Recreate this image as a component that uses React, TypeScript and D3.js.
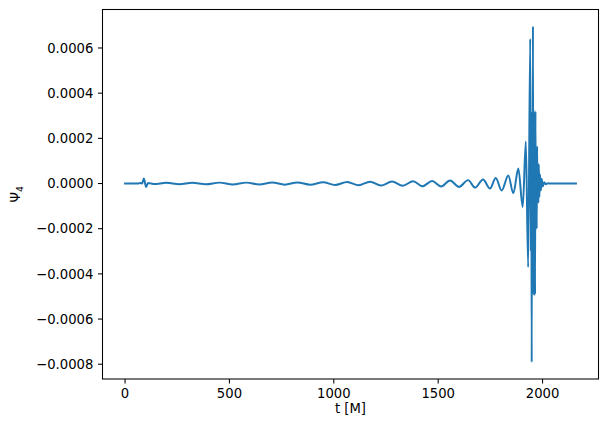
import React from "react"
import * as d3 from "d3"

// time samples [M] and Psi_4 values (in units of 1e-6)
const times = [
  0, 60, 76, 82, 90, 101, 110, 125, 140, 198, 260, 322, 387, 452, 516, 581,
  643, 705, 765, 825, 887, 949, 1006, 1064, 1119, 1174, 1226, 1279, 1330,
  1380, 1425, 1471, 1514, 1557, 1600, 1643, 1677, 1715, 1748, 1776, 1804,
  1836, 1860, 1884, 1905, 1920, 1931, 1941, 1944, 1946, 1948, 1950, 1952,
  1954, 1956, 1958, 1960, 1962, 1964, 1966, 1968, 1970, 1972, 1974, 1976,
  1978, 1980, 1982, 1985, 1988, 1992, 1996, 2001, 2008, 2016, 2026, 2040,
  2160,
]
const psi4Micro = [
  0, 0, 2, 0, 22, -15, 2, 0, -2.5, 3, -3, 3.5, -3.5, 4, -4, 4, -4.5, 4.5, -5,
  5, -5.5, 6, -6.5, 7, -7.5, 8, -9, 9, -10, 10, -12, 11, -13, 13, -15, 15,
  -18, 18, -22, 24, -31, 36, -43, 66, -104, 186, -371, 641, -300, 320, -791,
  320, -490, 696, -490, 320, -497, 320, -490, 320, -200, 165, -200, 165, -85,
  85, -85, 85, -60, 40, -30, 20, -12, 6, -3, 1, 0, 0,
]

const xTicks = [0, 500, 1000, 1500, 2000]
const yTicks = [-0.0008, -0.0006, -0.0004, -0.0002, 0, 0.0002, 0.0004, 0.0006]

const W = 607
const H = 432
const margin = { left: 102.5, right: 8.5, top: 9.5, bottom: 53 }
const font = "'DejaVu Sans', sans-serif"
const fs = 13.2
const tickLen = 4.6
const pad = 4.6

export default function App() {
  const data = times.map((t, i) => ({ t, v: psi4Micro[i] * 1e-6 }))

  const x0 = margin.left
  const x1 = W - margin.right
  const y0 = margin.top
  const y1 = H - margin.bottom

  const [tmin, tmax] = d3.extent(data, d => d.t) as [number, number]
  const [vmin, vmax] = d3.extent(data, d => d.v) as [number, number]
  const dx = (tmax - tmin) * 0.05
  const dy = (vmax - vmin) * 0.05

  const x = d3.scaleLinear().domain([tmin - dx, tmax + dx]).range([x0, x1])
  const y = d3.scaleLinear().domain([vmin - dy, vmax + dy]).range([y1, y0])

  const line = d3
    .line<{ t: number; v: number }>()
    .x(d => x(d.t))
    .y(d => y(d.v))
    .curve(d3.curveMonotoneX)

  const fmtY = (v: number) => d3.format(".4f")(v).replace("-", "\u2212")

  return (
    <svg
      width={W}
      height={H}
      style={{ position: "absolute", left: 0, top: 0, background: "#fff" }}
      fontFamily={font}
      fontSize={fs}
    >
      <rect x={0} y={0} width={W} height={H} fill="#fff" />
      <defs>
        <clipPath id="plot">
          <rect x={x0} y={y0} width={x1 - x0} height={y1 - y0} />
        </clipPath>
      </defs>
      <path
        d={line(data) ?? ""}
        fill="none"
        stroke="#1f77b4"
        strokeWidth={1.98}
        strokeLinejoin="round"
        strokeLinecap="square"
        clipPath="url(#plot)"
      />
      <rect
        x={x0}
        y={y0}
        width={x1 - x0}
        height={y1 - y0}
        fill="none"
        stroke="#000"
        strokeWidth={1.05}
      />
      {xTicks.map(t => (
        <g key={"x" + t} transform={`translate(${x(t)},${y1})`}>
          <line y1={0} y2={tickLen} stroke="#000" strokeWidth={1.05} />
          <text
            y={tickLen + pad + fs * 0.76}
            textAnchor="middle"
            fill="#000"
          >
            {t}
          </text>
        </g>
      ))}
      {yTicks.map(v => (
        <g key={"y" + v} transform={`translate(${x0},${y(v)})`}>
          <line x1={0} x2={-tickLen} stroke="#000" strokeWidth={1.05} />
          <text
            x={-tickLen - pad}
            dy="0.36em"
            textAnchor="end"
            fill="#000"
          >
            {fmtY(v)}
          </text>
        </g>
      ))}
      <text x={(x0 + x1) / 2} y={413} textAnchor="middle" fill="#000">
        t [M]
      </text>
      <text
        transform={`translate(20,${(y0 + y1) / 2}) rotate(-90)`}
        textAnchor="middle"
        fill="#000"
      >
        {"\u03a8"}
        <tspan fontSize={fs * 0.7} dy={fs * 0.2}>
          4
        </tspan>
      </text>
    </svg>
  )
}
